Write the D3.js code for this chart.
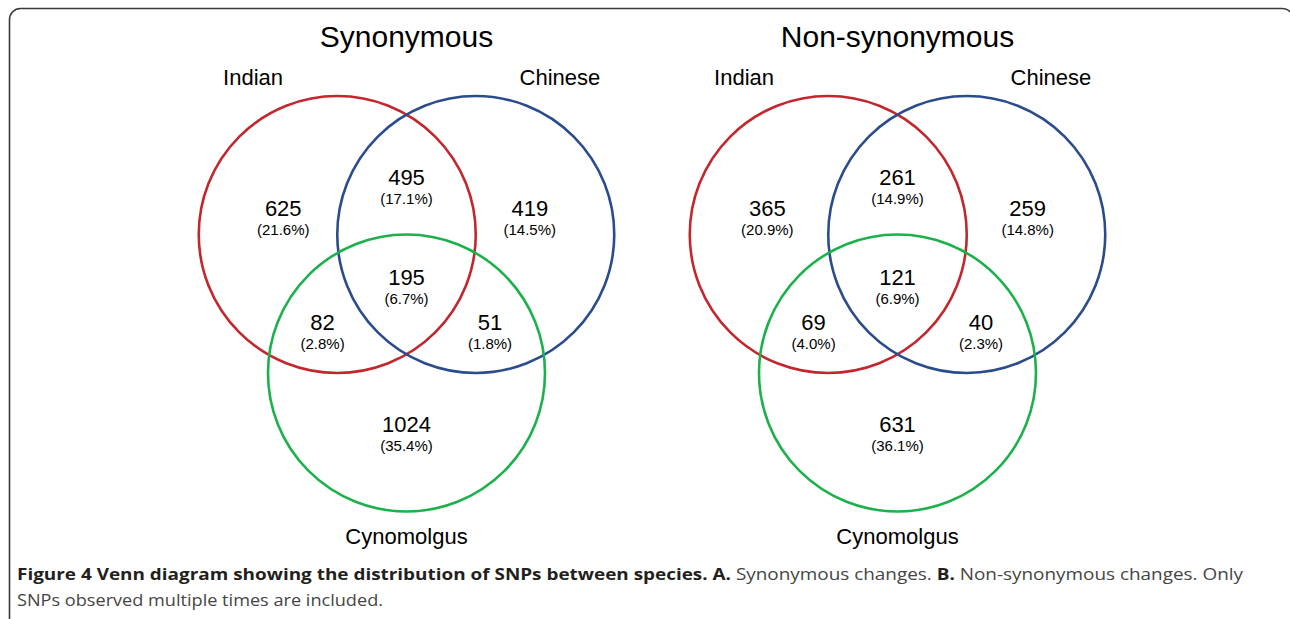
<!DOCTYPE html>
<html>
<head>
<meta charset="utf-8">
<script src="https://cdn.jsdelivr.net/npm/d3@7"></script>
<style>
  html, body { margin: 0; padding: 0; background: #fff; }
  svg { display: block; }
</style>
</head>
<body>
<div id="chart"></div>
<script>
// data
var setNames = ["Indian", "Chinese", "Cynomolgus"];
var panelTitles = ["Synonymous", "Non-synonymous"];
// region order: Indian only, Chinese only, Cynomolgus only, I&C, I&Cy, C&Cy, all three
var regionKeys = ["I", "C", "Y", "IC", "IY", "CY", "ICY"];
var synCounts = [625, 419, 1024, 495, 82, 51, 195];
var nonSynCounts = [365, 259, 631, 261, 69, 40, 121];
var panelCounts = [synCounts, nonSynCounts];

// layout (unit space: circle radius = 1)
var circleCenters = [[-0.5, 0], [0.5, 0], [0, 1]];
var circleColors = ["#c1272d", "#2b4c8c", "#1db14b"];
var panelCx = [406.5, 897.5];
var outerLabelX = [0.89, 0.94];

var width = 1290, height = 619;
var radius = 138.5;

var svg = d3.select("#chart").append("svg")
    .attr("width", width)
    .attr("height", height);

// rounded frame, right and bottom edges run off the page
svg.append("rect")
    .attr("x", 9.5).attr("y", 8.5)
    .attr("width", 1284).attr("height", 630)
    .attr("rx", 11).attr("ry", 11)
    .attr("fill", "none")
    .attr("stroke", "#3a3a3a")
    .attr("stroke-width", 1.6);

var pctFormat = d3.format(".1f");

panelTitles.forEach(function(title, p) {
    var x = d3.scaleLinear().domain([-1, 1]).range([panelCx[p] - radius, panelCx[p] + radius]);
    var y = d3.scaleLinear().domain([0, 1]).range([234.5, 373]);
    var ox = outerLabelX[p];

    // label anchors (number baseline) per region, in unit space
    var labelPos = {
        I: [-ox, -0.134], C: [ox, -0.134], Y: [0, 1.424],
        IC: [0, -0.357], IY: [-0.606, 0.69], CY: [0.603, 0.69], ICY: [0, 0.365]
    };

    var g = svg.append("g").attr("class", "panel");
    var counts = panelCounts[p];
    var total = d3.sum(counts);

    g.append("text")
        .attr("x", x(0)).attr("y", 47)
        .attr("text-anchor", "middle")
        .style("font-family", "'Liberation Sans', Arial, sans-serif")
        .style("font-size", "30px")
        .attr("fill", "#000")
        .text(title);

    g.selectAll("circle.set")
        .data(circleCenters)
        .enter().append("circle")
            .attr("class", "set")
            .attr("cx", function(d) { return x(d[0]); })
            .attr("cy", function(d) { return y(d[1]); })
            .attr("r", x(1) - x(0))
            .attr("fill", "none")
            .attr("stroke", function(d, i) { return circleColors[i]; })
            .attr("stroke-width", 2.6);

    // set names
    var namePos = [[-1.108, -1.08], [1.108, -1.08], [0, 2.2]];
    g.selectAll("text.name")
        .data(setNames)
        .enter().append("text")
            .attr("class", "name")
            .attr("x", function(d, i) { return x(namePos[i][0]); })
            .attr("y", function(d, i) { return i < 2 ? 85 : 544; })
            .attr("text-anchor", "middle")
            .style("font-family", "'Liberation Sans', Arial, sans-serif")
            .style("font-size", "22px")
            .attr("fill", "#000")
            .text(function(d) { return d; });

    var labels = g.selectAll("g.region")
        .data(regionKeys.map(function(k, i) { return { key: k, n: counts[i] }; }))
        .enter().append("g")
            .attr("class", "region")
            .attr("transform", function(d) {
                return "translate(" + x(labelPos[d.key][0]) + "," + y(labelPos[d.key][1]) + ")";
            })
            .style("font-family", "'Liberation Sans', Arial, sans-serif")
            .attr("text-anchor", "middle")
            .attr("fill", "#000");

    labels.append("text")
        .style("font-size", "22px")
        .text(function(d) { return d.n; });

    labels.append("text")
        .attr("y", 19)
        .style("font-size", "15px")
        .text(function(d) { return "(" + pctFormat(d.n / total * 100) + "%)"; });
});

// caption
var capFont = "'Open Sans', 'Noto Sans', sans-serif";
var line1 = svg.append("text")
    .attr("x", 17).attr("y", 580)
    .attr("textLength", 1226)
    .attr("lengthAdjust", "spacingAndGlyphs")
    .style("font-family", capFont)
    .style("font-size", "16.5px");
line1.append("tspan").attr("font-weight", 700).attr("fill", "#231f20")
    .text("Figure 4 Venn diagram showing the distribution of SNPs between species. A.");
line1.append("tspan").attr("fill", "#454545").text(" Synonymous changes. ");
line1.append("tspan").attr("font-weight", 700).attr("fill", "#231f20").text("B.");
line1.append("tspan").attr("fill", "#454545").text(" Non-synonymous changes. Only");

svg.append("text")
    .attr("x", 17).attr("y", 606)
    .attr("textLength", 366)
    .attr("lengthAdjust", "spacingAndGlyphs")
    .style("font-family", capFont)
    .style("font-size", "16.5px")
    .attr("fill", "#454545")
    .text("SNPs observed multiple times are included.");
</script>
</body>
</html>
